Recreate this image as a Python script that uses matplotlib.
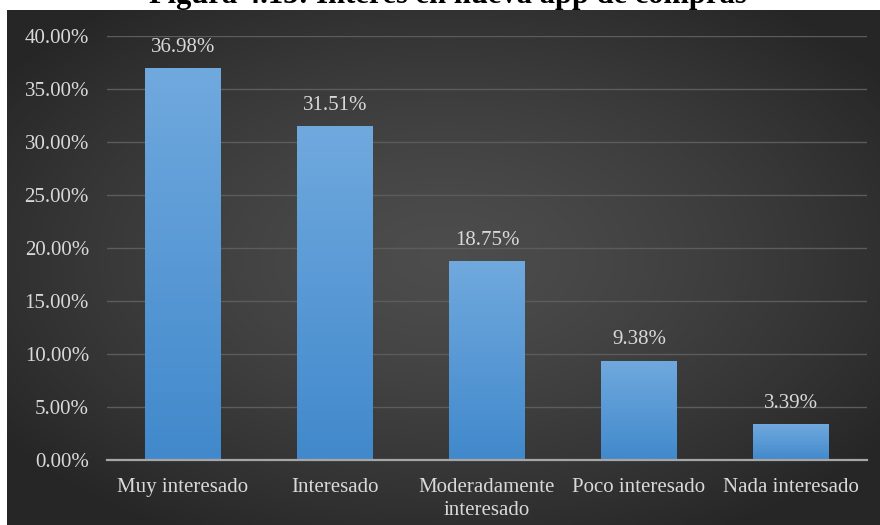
import numpy as np
import matplotlib
matplotlib.use("Agg")
import matplotlib.pyplot as plt
from matplotlib.colors import LinearSegmentedColormap

# Survey results: interest in a new shopping app
categories = ["Muy interesado", "Interesado", "Moderadamente\ninteresado",
              "Poco interesado", "Nada interesado"]
values = [36.98, 31.51, 18.75, 9.38, 3.39]
y_ticks = [0, 5, 10, 15, 20, 25, 30, 35, 40]
title = "Figura 4.13: Interés en nueva app de compras"

plt.rcParams['font.family'] = ['Liberation Serif', 'DejaVu Serif']

W, H = 880, 525
fig = plt.figure(figsize=(W / 100, H / 100), dpi=100)
fig.patch.set_facecolor('white')

# dark panel with a soft radial gradient
bg = fig.add_axes([7 / W, 0, 1 - 7 / W, (H - 10) / H])
bg.axis('off')
ny, nx = 300, 500
yy, xx = np.mgrid[0:1:ny * 1j, 0:1:nx * 1j]
r = np.sqrt(((xx - 0.5) / 0.62) ** 2 + ((yy - 0.52) / 0.62) ** 2)
v = 0.30 - 0.15 * np.clip(r, 0, 1) ** 1.4
bg.imshow(np.dstack([v, v, v]), extent=[0, 1, 0, 1], aspect='auto',
          interpolation='bicubic', origin='lower')
bg.set_xlim(0, 1)
bg.set_ylim(0, 1)

# title (partly cut by the top edge)
fig.text(448 / W, 1 - 3 / H, title, ha='center', va='baseline',
         fontsize=22, fontweight='bold', color='black')

ax = fig.add_axes([107 / W, 65 / H, 760 / W, 424 / H])
ax.patch.set_visible(False)

x = np.arange(len(categories))
bars = ax.bar(x, values, width=0.5, color='none', edgecolor='none', zorder=3)

bar_cmap = LinearSegmentedColormap.from_list('barfill', ['#4189cc', '#70a9de'])
grad = np.linspace(0, 1, 256).reshape(-1, 1)
for b in bars:
    x0 = b.get_x()
    x1 = x0 + b.get_width()
    h = b.get_height()
    im = ax.imshow(grad, cmap=bar_cmap, extent=[x0, x1, 0, h], origin='lower',
                   aspect='auto', zorder=3)
    im.set_clip_path(b)

for xi, val in zip(x, values):
    ax.annotate(f"{val:.2f}%", (xi, val), xytext=(0, 8), textcoords='offset points',
                ha='center', va='bottom', fontsize=15, color='#d9d9d9', zorder=4)

ax.set_xlim(-0.5, len(categories) - 0.5)
ax.set_ylim(0, 40)
ax.set_yticks(y_ticks)
ax.set_yticklabels([f"{t:.2f}%" for t in y_ticks])
ax.set_xticks(x)
ax.set_xticklabels(categories, linespacing=1.3)

for s in ax.spines.values():
    s.set_visible(False)
ax.set_axisbelow(True)
ax.yaxis.grid(True, color='#5c5c5c', linewidth=1.0, zorder=1)
ax.axhline(0, color='#a6a6a6', linewidth=1.6, zorder=4, clip_on=False)

ax.tick_params(axis='both', length=0, colors='#d9d9d9', labelsize=15)
ax.tick_params(axis='y', pad=13)
ax.tick_params(axis='x', pad=13)

fig.savefig('out.png', dpi=100)
